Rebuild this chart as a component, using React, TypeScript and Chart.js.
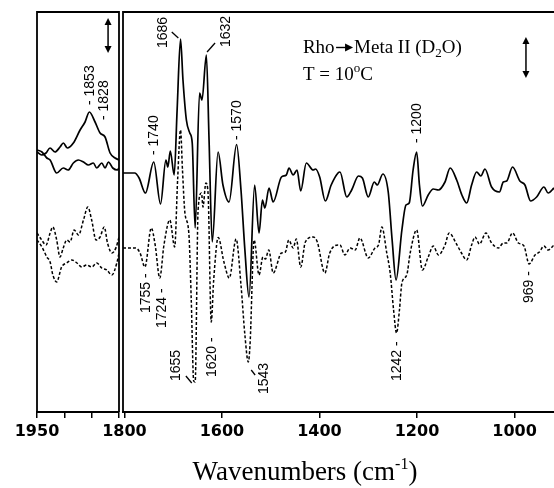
import React, { useEffect, useRef } from 'react';
import { Chart, registerables } from 'chart.js';

Chart.register(...registerables);

// ---------------- data (wavenumber cm-1 / difference absorbance, arbitrary units) -------------
// left panel, 1950–1800 cm-1
const leftSolidAWn = [1950, 1941.4, 1933.5, 1926.2, 1917, 1907.9, 1901.8, 1894.5, 1883.5, 1871.2, 1862.1, 1854.2, 1843.8, 1834.6, 1825.5, 1816.3, 1807.1, 1800];
const leftSolidAVal = [260, 257, 259, 264, 260, 265, 269, 264, 269, 282, 290, 300, 290, 279, 275, 259, 254, 252];
const leftSolidBWn = [1950, 1941, 1932, 1926, 1914, 1902, 1893, 1883.5, 1874.4, 1865, 1856, 1847, 1840.7, 1831.5, 1825.5, 1819.4, 1811.4, 1803, 1800];
const leftSolidBVal = [262, 260, 254, 252, 239, 244, 242, 249, 252, 250, 247, 249, 244, 249, 244, 250, 244, 242, 244];
const leftDashAWn = [1950, 1941.4, 1933.5, 1926, 1921, 1914, 1908, 1902, 1895.6, 1889.6, 1882, 1874, 1865, 1857, 1850, 1842, 1834.6, 1827, 1821, 1813, 1805, 1800];
const leftDashAVal = [179, 172, 167, 179, 185, 172, 155, 164, 172, 170, 182, 177, 192, 205, 192, 172, 175, 185, 169, 159, 165, 175];
const leftDashBWn = [1950, 1941, 1932, 1926, 1921, 1914, 1905, 1895.6, 1886.4, 1877, 1868, 1859, 1850, 1840.7, 1831.5, 1822.3, 1813, 1804, 1800];
const leftDashBVal = [172, 165, 155, 150, 137, 130, 145, 149, 152, 149, 145, 147, 145, 149, 144, 142, 137, 149, 159];

// right panel, 1803–919 cm-1
const rightSolidWn = [1803, 1779, 1770, 1757, 1740, 1726, 1715, 1711, 1706, 1698, 1692, 1685, 1680, 1673, 1666, 1661, 1655, 1646, 1641, 1632, 1626.5, 1620, 1608, 1598, 1585.5, 1570, 1561, 1553, 1544.5, 1533, 1524, 1517, 1512, 1503.5, 1495, 1478, 1468, 1462.5, 1454, 1446, 1438.5, 1427, 1413, 1408, 1399.6, 1388, 1376, 1362, 1358, 1344, 1334, 1320, 1312, 1300, 1287.6, 1281.5, 1270, 1259, 1251, 1243, 1231, 1222.6, 1216, 1208, 1200.7, 1195, 1189, 1177, 1166.6, 1156, 1142.6, 1132, 1118.6, 1108, 1098, 1088, 1077.6, 1069, 1060.6, 1047, 1031, 1023, 1016, 1004, 989, 978.6, 967, 954.6, 939.6, 931, 919];
const rightSolidVal = [239, 239, 234, 219, 250, 208, 252, 245, 261, 237, 302, 373, 332, 292, 279, 269, 184, 319, 312, 357, 272, 170, 260, 227, 210, 267.5, 222, 162, 115, 227, 179, 212, 204, 224, 210, 235, 237, 244, 237, 242, 221, 249, 242, 243, 235, 211, 227, 239, 240, 215, 222, 236, 234, 215, 230, 227, 238, 220, 172, 132, 182, 207, 209, 242, 260, 227, 206, 217, 223, 222, 230, 244, 232, 217, 209, 227, 240, 236, 243, 225, 220, 230, 231, 245, 231, 227, 211, 215, 225, 219, 224];
const rightDashWn = [1803, 1777, 1768, 1758, 1745, 1737, 1727.6, 1719, 1707, 1697, 1691, 1685, 1681, 1676, 1668, 1663, 1658, 1655, 1649, 1642, 1639, 1633, 1628.6, 1622, 1617, 1607.7, 1596, 1585, 1571, 1561, 1553, 1546, 1542.5, 1534, 1524, 1516, 1511, 1504, 1495, 1478, 1470, 1463, 1454, 1447.5, 1438.5, 1429, 1413, 1404.5, 1389, 1379, 1362, 1358, 1348, 1337, 1327, 1317, 1300, 1286, 1279, 1272, 1262, 1255, 1248, 1242, 1236, 1231, 1221, 1214, 1200.7, 1189, 1177, 1166.6, 1156, 1142.6, 1134, 1120, 1110, 1098, 1088, 1081, 1072, 1058.6, 1047, 1033, 1023, 1016, 1004, 992, 980.6, 970, 958, 949, 939.6, 931, 919];
const rightDashVal = [164, 164, 159, 145, 184, 167, 134, 167, 192, 165, 232, 282, 242, 199, 179, 112, 31, 30, 202, 219, 205, 229, 219, 90, 132, 174.5, 150, 134, 173, 127, 77, 50, 67, 172, 137, 155, 153, 162, 139, 159, 160, 172, 164, 173, 145, 170, 175, 170, 139, 159, 167, 167, 157, 164, 162, 174, 154, 164, 167, 185, 159, 139, 102, 79, 102, 129, 137, 159, 182, 142, 155, 166, 157, 167, 179, 169, 160, 152, 167, 175, 168, 179, 169, 164, 169, 169, 179, 169, 166, 148, 157, 160, 166, 162, 167];

// axes
const leftRange = [1800, 1950];
const rightRange = [919, 1803];
const leftTicks = [1950, 1900, 1850, 1800];
const leftTickLabels = ['1950', '', '', ''];
const rightTicks = [1800, 1600, 1400, 1200, 1000];
const rightTickLabels = ['1800', '1600', '1400', '1200', '1000'];
const yRange = [0, 400];

// peak annotations (text, wavenumber, level where text starts)
const leftPeakTexts = ['- 1853', '- 1828'];
const leftPeakWn = [1853, 1828];
const leftPeakLevel = [307, 292];
const rightPeakTexts = ['- 1740', '- 1570', '- 1200', '1755 -', '1724 -', '1620 -', '1242 -', '969 -', '1686', '1632', '1655', '1543'];
const rightPeakWn = [1740, 1569, 1199, 1756, 1722, 1621, 1240, 969, 1721, 1592, 1694, 1513];
const rightPeakLevel = [257, 272, 269, 99, 84, 35, 31, 109, 364, 365, 31, 18];
// slanted leader lines [wn1, v1, wn2, v2]
const rightLeaders = [
  [1703, 380, 1689.5, 374],
  [1630.6, 360, 1614.2, 369],
  [1674, 36, 1662, 29],
  [1540, 42, 1532, 37],
];

const titleMain = 'Wavenumbers (cm';
const titleSup = '-1';
const titleEnd = ')';
const note1a = 'Rho';
const note1b = 'Meta II (D';
const note1sub = '2';
const note1c = 'O)';
const note2a = 'T = 10';
const note2sup = 'o';
const note2b = 'C';

const SANS = '"Liberation Sans", Arial, sans-serif';
const SERIF = '"Liberation Serif", "Times New Roman", serif';

type Series = { wn: number[]; val: number[]; dashed: boolean };
type Panel = {
  range: number[];
  ticks: number[];
  tickLabels: string[];
  series: Series[];
  padLeft: number;
  padRight: number;
  texts: string[];
  textWn: number[];
  textLevel: number[];
  leaders: number[][];
  arrow: number[];
  closeRight: boolean;
  extra: boolean;
};

const leftPanel: Panel = {
  range: leftRange,
  ticks: leftTicks,
  tickLabels: leftTickLabels,
  series: [
    { wn: leftSolidAWn, val: leftSolidAVal, dashed: false },
    { wn: leftSolidBWn, val: leftSolidBVal, dashed: false },
    { wn: leftDashAWn, val: leftDashAVal, dashed: true },
    { wn: leftDashBWn, val: leftDashBVal, dashed: true },
  ],
  padLeft: 37,
  padRight: 554 - 119,
  texts: leftPeakTexts,
  textWn: leftPeakWn,
  textLevel: leftPeakLevel,
  leaders: [],
  arrow: [1820, 394, 359],
  closeRight: true,
  extra: false,
};

const rightPanel: Panel = {
  range: rightRange,
  ticks: rightTicks,
  tickLabels: rightTickLabels,
  series: [
    { wn: rightSolidWn, val: rightSolidVal, dashed: false },
    { wn: rightDashWn, val: rightDashVal, dashed: true },
  ],
  padLeft: 123,
  padRight: 0,
  texts: rightPeakTexts,
  textWn: rightPeakWn,
  textLevel: rightPeakLevel,
  leaders: rightLeaders,
  arrow: [976.5, 375, 334],
  closeRight: false,
  extra: true,
};

function build(canvas: HTMLCanvasElement, p: Panel) {
  const notes = {
    id: 'notes',
    afterDraw(chart: any) {
      const { ctx, chartArea: a, scales } = chart;
      const xs = scales.x;
      const ys = scales.y;
      ctx.save();
      ctx.strokeStyle = '#000';
      ctx.fillStyle = '#000';
      // frame
      ctx.lineWidth = 1.8;
      ctx.beginPath();
      if (p.closeRight) {
        ctx.moveTo(a.right, a.bottom);
        ctx.lineTo(a.right, a.top);
      } else {
        ctx.moveTo(a.right, a.top);
      }
      ctx.lineTo(a.left, a.top);
      ctx.lineTo(a.left, a.bottom);
      ctx.stroke();

      // rotated peak labels
      ctx.font = `14px ${SANS}`;
      ctx.textAlign = 'left';
      ctx.textBaseline = 'middle';
      p.texts.forEach((t, i) => {
        const px = xs.getPixelForValue(p.textWn[i]);
        const py = ys.getPixelForValue(p.textLevel[i]);
        ctx.save();
        ctx.translate(px, py);
        ctx.rotate(-Math.PI / 2);
        ctx.fillText(t, 0, 0);
        ctx.restore();
      });

      // leader lines
      ctx.lineWidth = 1.3;
      p.leaders.forEach((l) => {
        ctx.beginPath();
        ctx.moveTo(xs.getPixelForValue(l[0]), ys.getPixelForValue(l[1]));
        ctx.lineTo(xs.getPixelForValue(l[2]), ys.getPixelForValue(l[3]));
        ctx.stroke();
      });

      // double-headed scale arrow
      const ax = xs.getPixelForValue(p.arrow[0]);
      const ay1 = ys.getPixelForValue(p.arrow[1]);
      const ay2 = ys.getPixelForValue(p.arrow[2]);
      ctx.lineWidth = 1.5;
      ctx.beginPath();
      ctx.moveTo(ax, ay1 + 4);
      ctx.lineTo(ax, ay2 - 4);
      ctx.stroke();
      ctx.beginPath();
      ctx.moveTo(ax, ay1);
      ctx.lineTo(ax - 3.5, ay1 + 7);
      ctx.lineTo(ax + 3.5, ay1 + 7);
      ctx.closePath();
      ctx.fill();
      ctx.beginPath();
      ctx.moveTo(ax, ay2);
      ctx.lineTo(ax - 3.5, ay2 - 7);
      ctx.lineTo(ax + 3.5, ay2 - 7);
      ctx.closePath();
      ctx.fill();

      if (p.extra) {
        // sample notes
        ctx.textBaseline = 'alphabetic';
        let x = xs.getPixelForValue(1434);
        const y1 = ys.getPixelForValue(359);
        const y2 = ys.getPixelForValue(332);
        const x0 = x;
        ctx.font = `19px ${SERIF}`;
        ctx.fillText(note1a, x, y1);
        x += ctx.measureText(note1a).width + 1.5;
        ctx.lineWidth = 1.4;
        ctx.beginPath();
        ctx.moveTo(x, y1 - 5.5);
        ctx.lineTo(x + 11, y1 - 5.5);
        ctx.stroke();
        ctx.beginPath();
        ctx.moveTo(x + 17, y1 - 5.5);
        ctx.lineTo(x + 9, y1 - 9.5);
        ctx.lineTo(x + 9, y1 - 1.5);
        ctx.closePath();
        ctx.fill();
        x += 18;
        ctx.fillText(note1b, x, y1);
        x += ctx.measureText(note1b).width;
        ctx.font = `13px ${SERIF}`;
        ctx.fillText(note1sub, x, y1 + 4);
        x += ctx.measureText(note1sub).width;
        ctx.font = `19px ${SERIF}`;
        ctx.fillText(note1c, x, y1);

        let xx = x0;
        ctx.fillText(note2a, xx, y2);
        xx += ctx.measureText(note2a).width;
        ctx.font = `13px ${SERIF}`;
        ctx.fillText(note2sup, xx, y2 - 8);
        xx += ctx.measureText(note2sup).width;
        ctx.font = `19px ${SERIF}`;
        ctx.fillText(note2b, xx, y2);

        // axis title
        ctx.font = `27px ${SERIF}`;
        const w1 = ctx.measureText(titleMain).width;
        const w3 = ctx.measureText(titleEnd).width;
        ctx.font = `16px ${SERIF}`;
        const w2 = ctx.measureText(titleSup).width;
        const total = w1 + w2 + w3;
        let tx = 305 - total / 2;
        const ty = 480;
        ctx.font = `27px ${SERIF}`;
        ctx.fillText(titleMain, tx, ty);
        tx += w1;
        ctx.font = `16px ${SERIF}`;
        ctx.fillText(titleSup, tx, ty - 11);
        tx += w2;
        ctx.font = `27px ${SERIF}`;
        ctx.fillText(titleEnd, tx, ty);
      }
      ctx.restore();
    },
  };

  return new Chart(canvas, {
    type: 'line',
    data: {
      datasets: p.series.map((s) => ({
        data: s.wn.map((w, i) => ({ x: w, y: s.val[i] })),
        borderColor: '#000',
        borderWidth: s.dashed ? 1.5 : 1.7,
        borderDash: s.dashed ? [3, 2] : [],
        pointRadius: 0,
        fill: false,
        cubicInterpolationMode: 'monotone' as const,
      })),
    },
    options: {
      responsive: false,
      animation: false,
      events: [],
      layout: { padding: { left: p.padLeft, right: p.padRight, top: 12, bottom: 36 } },
      plugins: { legend: { display: false }, tooltip: { enabled: false }, title: { display: false } },
      scales: {
        x: {
          type: 'linear',
          reverse: true,
          min: p.range[0],
          max: p.range[1],
          afterBuildTicks: (s: any) => {
            s.ticks = p.ticks.map((v) => ({ value: v }));
          },
          afterFit: (s: any) => {
            s.height = 40;
          },
          grid: { drawOnChartArea: false, drawTicks: true, tickLength: 6, color: '#000', lineWidth: 1.5 },
          border: { display: true, color: '#000', width: 2 },
          ticks: {
            autoSkip: false,
            maxRotation: 0,
            padding: 4,
            color: '#000',
            font: { family: '"DejaVu Sans", sans-serif', weight: 'bold', size: 16 },
            callback: (v: any) => {
              const i = p.ticks.indexOf(Number(v));
              return i >= 0 ? p.tickLabels[i] : '';
            },
          },
        },
        y: { type: 'linear', display: false, min: yRange[0], max: yRange[1] },
      },
    },
    plugins: [notes],
  } as any);
}

export default function App() {
  const leftRef = useRef<HTMLCanvasElement>(null);
  const rightRef = useRef<HTMLCanvasElement>(null);
  useEffect(() => {
    const charts = [build(leftRef.current!, leftPanel), build(rightRef.current!, rightPanel)];
    return () => charts.forEach((c) => c.destroy());
  }, []);
  const cs: React.CSSProperties = { position: 'absolute', left: 0, top: 0, width: 554, height: 488 };
  return (
    <div style={{ position: 'fixed', left: 0, top: 0, width: 554, height: 488, background: '#fff' }}>
      <canvas ref={leftRef} width={554} height={488} style={cs} />
      <canvas ref={rightRef} width={554} height={488} style={cs} />
    </div>
  );
}
